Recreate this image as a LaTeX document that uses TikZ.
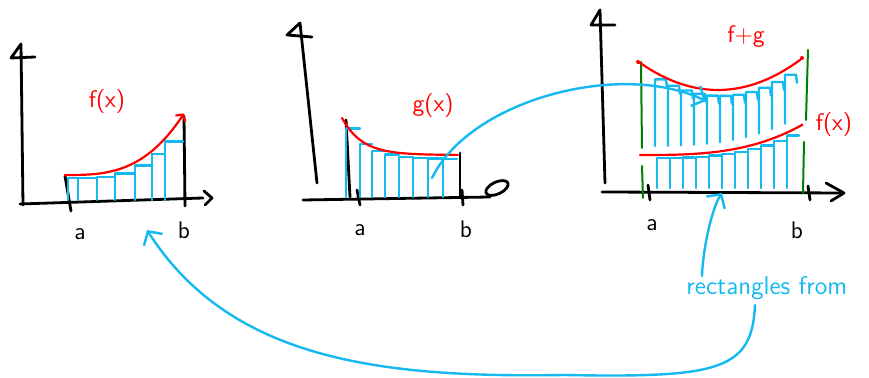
\documentclass[tikz,border=0pt]{standalone}
\usepackage{tikz}
\usetikzlibrary{arrows.meta}
\definecolor{penblue}{RGB}{20,185,240}
\definecolor{pengreen}{RGB}{0,128,0}

\begin{document}
\begin{tikzpicture}[x=0.5pt,y=-0.5pt,line cap=round,line join=round,
 ink/.style={black,line width=1.4pt},
 redink/.style={red,line width=1.1pt},
 blueink/.style={penblue,line width=1.2pt},
 greenink/.style={pengreen,line width=1pt},
 lbl/.style={font=\sffamily\large,inner sep=1pt},
 barb/.style={-{Straight Barb[length=5pt,width=11pt]}}]
\useasboundingbox (0,0) rectangle (869,378);

% left graph: f(x)
\draw[ink] (23,205) -- (21,44) -- (11,58) -- (35,57);
\draw[ink] (20,204) -- (203,198);
\draw[ink] (204,191) -- (212,198) -- (205,205);
\draw[ink] (65,176) -- (71,211);
\draw[ink] (184,116) -- (185,206);
\foreach \x/\w in {68/10,78/19,97/18,115/20,135/17,152/13,165/18} {
   \pgfmathsetmacro\t{178-60*((\x-65)/118)^3}
   \draw[blueink] (\x,200) -- (\x,\t) -- (\x+\w,\t);
}
\draw[redink,-{Straight Barb[length=2.5pt,width=6pt]}] plot[domain=65:184,samples=30] (\x,{175-60*((\x-65)/118)^3});
\node[lbl,red] (fLbl) at (107,102) {f(x)};
\node[lbl] (a1) at (80,234) {a};
\node[lbl] (b1) at (184,230) {b};

% middle graph: g(x)
\draw[ink] (317,183) -- (300,23) -- (287,35) -- (312,37);
\draw[ink] (303,200) -- (490,197);
\draw[ink,rotate around={25:(497,188)}] (497,188) ellipse (12 and 6);
\draw[ink] (346,120) -- (350,197);
\draw[ink] (460,153) -- (460,197);
\draw[ink] (357,190) -- (360,205);
\draw[ink] (462,190) -- (463,205);
\foreach \x/\w in {346/14,360/12,372/13,385/14,399/14,413/15,428/15,443/14} {
   \pgfmathsetmacro\t{159-37*exp(-(\x-342)/20)}
   \draw[blueink] (\x,197) -- (\x,\t) -- (\x+\w,\t);
}
\draw[redink] plot[domain=342:458,samples=30] (\x,{155-37*exp(-(\x-342)/20)});
\node[lbl,red] (gLbl) at (433,106) {g(x)};
\node[lbl] (a2) at (360,230) {a};
\node[lbl] (b2) at (466,229) {b};

% right graph: f+g
\draw[ink] (605,183) -- (600,10) -- (591,25) -- (615,25);
\draw[ink] (602,192) -- (843,193);
\draw[ink] (826,183) -- (844,193) -- (831,201);
\draw[ink] (648,185) -- (650,200);
\draw[ink] (808,186) -- (810,200);
\draw[greenink] (641,62) -- (642,148) (642,166) -- (643,198);
\draw[greenink] (808,50) -- (806,120) (804,142) -- (803,193);
\foreach \x in {657,670,...,796} {
   \pgfmathsetmacro\t{158-30*((\x-640)/162)^3}
   \pgfmathsetmacro\u{96-30*((\x-718)/82)^2}
   \draw[blueink] (\x,188) -- (\x,\t) -- (\x+12,\t);
   \draw[blueink] (\x-2,\t-12) -- (\x-2,\u) -- (\x+9,\u) -- (\x+10,\u+8);
}
\draw[redink] plot[domain=640:802,samples=30] (\x,{155-30*((\x-640)/162)^3});
\draw[redink] plot[domain=638:802,samples=30] (\x,{90-30*((\x-718)/82)^2});
\fill[red] (638,62) circle (2) (802,58) circle (2) (802,125) circle (1.5);
\node[lbl,red] (fgLbl) at (746,37) {f+g};
\node[lbl,red] (f3Lbl) at (834,125) {f(x)};
\node[lbl] (a3) at (652,225) {a};
\node[lbl] (b3) at (797,230) {b};

% blue notes
\node[lbl,penblue,anchor=west,font=\sffamily\fontsize{12.8}{15}\selectfont] (rectLbl) at (684,288) {rectangles from};
\coordinate (lblTop) at (702,276);
\coordinate (upTip) at (722,193);
\coordinate (lblBot) at (755,305);
\coordinate (loopLow) at (565,375);
\coordinate (fTip) at (147,230);
\coordinate (gStart) at (432,178);
\coordinate (fgTip) at (706,101);
\draw[blueink,barb] (lblTop) .. controls (703,248) and (712,208) .. (upTip);
\draw[blueink,barb] (lblBot) .. controls (752,370) and (720,378) .. (loopLow)
   .. controls (380,378) and (230,360) .. (fTip);
\draw[blueink,barb] (gStart) .. controls (470,100) and (620,60) .. (fgTip);
\end{tikzpicture}
\end{document}
